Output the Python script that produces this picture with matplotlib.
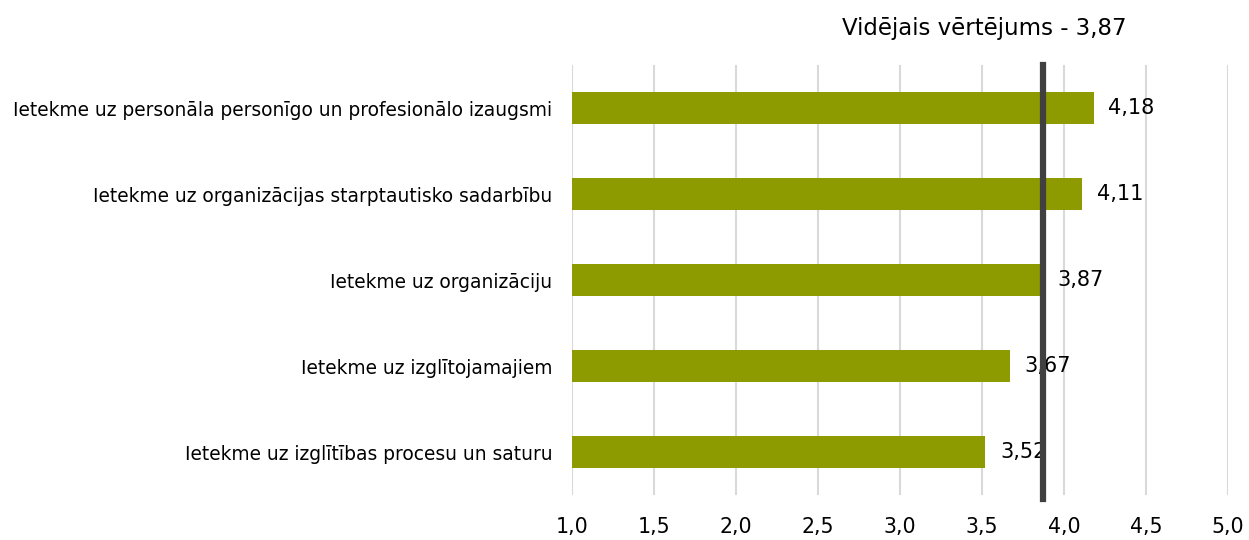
import matplotlib.pyplot as plt

# dati
kategorijas = [
    "Ietekme uz izglītības procesu un saturu",
    "Ietekme uz izglītojamajiem",
    "Ietekme uz organizāciju",
    "Ietekme uz organizācijas starptautisko sadarbību",
    "Ietekme uz personāla personīgo un profesionālo izaugsmi",
]
vertejumi = [3.52, 3.67, 3.87, 4.11, 4.18]
videjais = 3.87
x_ticks = [1.0, 1.5, 2.0, 2.5, 3.0, 3.5, 4.0, 4.5, 5.0]

plt.rcParams['font.family'] = ['DejaVu Sans']

fig = plt.figure(figsize=(12.49, 5.4), dpi=100)
ax = fig.add_axes([572 / 1249, 45 / 540, 656 / 1249, 430 / 540])

ypos = list(range(len(kategorijas)))
ax.barh(ypos, [v - 1.0 for v in vertejumi], left=1.0, height=0.37,
        color='#8D9B00', zorder=2)

for y, v in zip(ypos, vertejumi):
    ax.text(v + 0.09, y, f"{v:.2f}".replace('.', ','), va='center', ha='left',
            fontsize=15, color='black', zorder=1)

ax.axvline(videjais, ymin=-0.01, ymax=1.0, color='#404040', linewidth=4.5,
           zorder=3, clip_on=False)

ax.set_xlim(1.0, 5.0)
ax.set_ylim(-0.5, 4.5)
ax.set_xticks(x_ticks)
ax.set_xticklabels([f"{t:.1f}".replace('.', ',') for t in x_ticks], fontsize=14.8)
ax.set_yticks(ypos)
ax.set_yticklabels(kategorijas, fontsize=13.4)
ax.tick_params(axis='both', length=0)
ax.tick_params(axis='x', pad=16)
ax.tick_params(axis='y', pad=14)
ax.grid(axis='x', color='#D9D9D9', linewidth=1.5, zorder=0)
ax.set_axisbelow(True)
for s in ax.spines.values():
    s.set_visible(False)

fig.text(984 / 1249, 1 - 28 / 540, f"Vidējais vērtējums - {videjais:.2f}".replace('.', ','),
         ha='center', va='center', fontsize=16.5)

fig.savefig('out.png', dpi=100)
